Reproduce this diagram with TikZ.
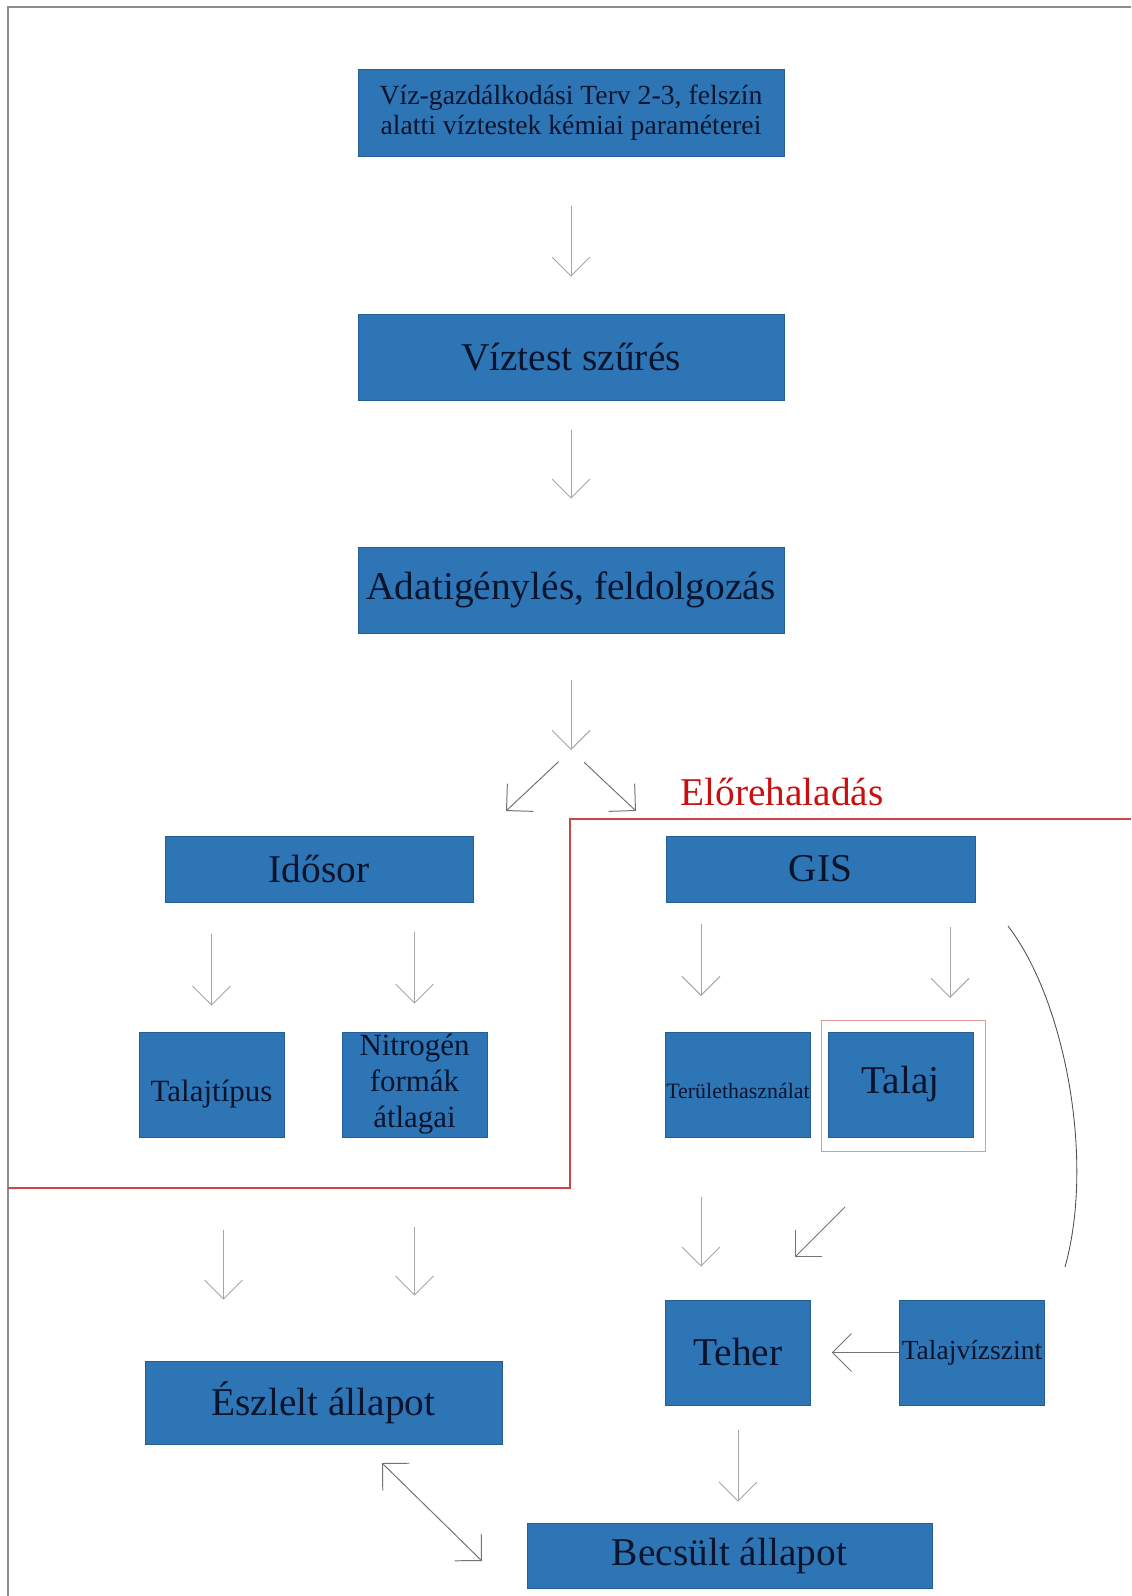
\documentclass[tikz,border=0pt]{standalone}
\usepackage{fontspec}
\setmainfont{Liberation Serif}
\usetikzlibrary{arrows.meta,calc}
\newcommand{\upx}{0.025cm}
\definecolor{boxblue}{RGB}{46,117,182}
\definecolor{boxtext}{RGB}{10,20,45}
\definecolor{markred}{RGB}{200,16,16}
\definecolor{linered}{RGB}{205,70,70}
\definecolor{ringred}{RGB}{225,150,150}
\begin{document}
\begin{tikzpicture}[x=0.025cm, y=-0.025cm,
  box/.style={draw=boxblue!80!black, line width=0.4pt, fill=boxblue, rectangle, inner sep=0pt, align=center, text=boxtext},
  bigtext/.style={font=\fontsize{28}{31}\selectfont},
  arr/.style={-{Straight Barb[length=13.5pt,width=27pt]}, draw=black!35, line width=0.7pt},
  darkarr/.style={arr, draw=black!55}]
\useasboundingbox (0,0) rectangle (1131,1596);
\draw[black!45, line width=1.2pt] (8,1596) -- (8,7) -- (1131,7);
% progress border
\draw[linered, line width=0.8pt] (1131,819) -- (570,819) -- (570,1188) -- (8,1188);
\node[text=markred, bigtext, anchor=base] (elore) at (782,805) {Előrehaladás};

\node[box, minimum width=426*\upx, minimum height=87*\upx, font=\fontsize{19.7}{21.7}\selectfont] (terv) at (571,112.5) {Víz-gazdálkodási Terv 2-3, felszín\\alatti víztestek kémiai paraméterei};
\node[box, bigtext, minimum width=426*\upx, minimum height=86*\upx] (szures) at (571,357) {Víztest szűrés};
\node[box, bigtext, minimum width=426*\upx, minimum height=86*\upx] (adat) at (571,590) {Adatigénylés, feldolgozás};
\node[box, bigtext, minimum width=308*\upx, minimum height=66*\upx] (idosor) at (319,869) {Idősor};
\node[box, bigtext, minimum width=309*\upx, minimum height=66*\upx] (gis) at (820.5,869) {GIS};
\node[box, minimum width=145*\upx, minimum height=105*\upx, font=\fontsize{22}{25.6}\selectfont, text height=23.5pt, text depth=0pt] (tipus) at (211.5,1084.5) {Talajtípus};
\node[box, minimum width=145*\upx, minimum height=105*\upx, font=\fontsize{22}{25.6}\selectfont] (nitro) at (414.5,1084.5) {Nitrogén\\formák\\átlagai};
\node[box, minimum width=145*\upx, minimum height=105*\upx, font=\fontsize{15.6}{17}\selectfont, text height=20.6pt, text depth=0pt] (terulet) at (738,1084.5) {Területhasználat};
\node[box, bigtext, minimum width=145*\upx, minimum height=105*\upx] (talaj) at (900.5,1084.5) {Talaj};
\node[box, bigtext, minimum width=145*\upx, minimum height=105*\upx] (teher) at (738,1352.5) {Teher};
\node[box, minimum width=145*\upx, minimum height=105*\upx, font=\fontsize{19.6}{22}\selectfont] (talajviz) at (972,1352.5) {Talajvízszint};
\node[box, bigtext, minimum width=357*\upx, minimum height=83*\upx] (eszlelt) at (323.5,1402.5) {Észlelt állapot};
\node[box, bigtext, minimum width=405*\upx, minimum height=65*\upx] (becsult) at (729.5,1555.5) {Becsült állapot};
\draw[ringred, line width=0.6pt] ($(talaj.north west)+(-6,-11)$) rectangle ($(talaj.south east)+(12,14)$);

% free ends
\coordinate (split) at (571,750);
\coordinate (splitl) at (506,811);
\coordinate (splitr) at (636,811);
\coordinate (gisl) at (701,996);
\coordinate (gisr) at (950,998);
\coordinate (diagtip) at (795,1257);
\coordinate (dblA) at (382,1463);
\coordinate (dblB) at (482,1561);
\coordinate (arctop) at (1008,926);
\coordinate (arcbot) at (1065,1267);

\draw[arr, shorten <=50*\upx, shorten >=37*\upx] (terv) -- (szures);
\draw[arr, shorten <=30*\upx, shorten >=48*\upx] (szures) -- (adat);
\draw[arr, shorten <=47*\upx] (adat) -- (split);
\draw[darkarr, shorten <=17*\upx] (split) -- (splitl);
\draw[darkarr, shorten <=18*\upx] (split) -- (splitr);
\draw[arr, shorten <=32*\upx, shorten >=26*\upx] (idosor.south -| tipus) -- (tipus.north);
\draw[arr, shorten <=30*\upx, shorten >=28*\upx] (idosor.south -| nitro) -- (nitro.north);
\draw[arr, shorten <=22*\upx] (gis.south -| gisl) -- (gisl);
\draw[arr, shorten <=25*\upx] (gis.south -| gisr) -- (gisr);
\draw[arr, shorten <=93*\upx, shorten >=61*\upx] ([xshift=12*\upx]tipus.south) -- ([xshift=12*\upx]tipus.south |- eszlelt.north);
\draw[arr, shorten <=90*\upx, shorten >=65*\upx] (nitro.south) -- (nitro.south |- eszlelt.north);
\draw[arr, shorten <=60*\upx, shorten >=33*\upx] ([xshift=-37*\upx]terulet.south) -- ([xshift=-37*\upx]teher.north);
\draw[darkarr] ($(diagtip)+(50,-50)$) -- (diagtip);
\draw[darkarr, shorten >=21*\upx] (talajviz.west) -- (teher.east);
\draw[arr, shorten <=25*\upx, shorten >=21*\upx] (teher.south) -- (teher.south |- becsult.north);
\draw[darkarr, {Straight Barb[length=13.5pt,width=27pt]}-{Straight Barb[length=13.5pt,width=27pt]}] (dblA) -- (dblB);
\draw[black!70, line width=0.6pt] (arctop) .. controls (1065,1000) and (1095,1160) .. (arcbot);
\end{tikzpicture}
\end{document}
